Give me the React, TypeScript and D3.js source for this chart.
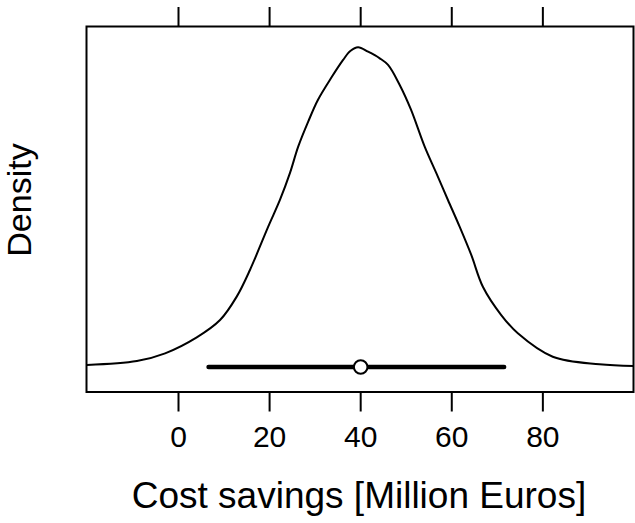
import React from "react";
import * as d3 from "d3";

// Density curve (x in Million Euros, y in density units)
const densityX = [-20.1, -9.14, -2.94, 4.01, 9.12, 12.78, 15.69, 19.70, 22.27, 24.46, 26.28, 28.5, 30.6, 33.5, 36.14, 37.72, 39.43, 41.62, 44.19, 46.01, 48.57, 51.0, 54.05, 56.61, 59.16, 61.72, 64.28, 66.83, 70.86, 74.50, 82.17, 92.41, 99.9];
const densityY = [0.00100, 0.00129, 0.00186, 0.00304, 0.00432, 0.00605, 0.00802, 0.01122, 0.01319, 0.01517, 0.01713, 0.01900, 0.02058, 0.02220, 0.02354, 0.02420, 0.02448, 0.02415, 0.02366, 0.02317, 0.02169, 0.01990, 0.01713, 0.01517, 0.01319, 0.01122, 0.00913, 0.00678, 0.00469, 0.00334, 0.00161, 0.00105, 0.00092];

// Interval summary (thick bar with a circle at the centre)
const intervalLow = [6.6];
const intervalHigh = [71.5];
const intervalMid = [40];
const intervalLevel = [0.00085];

const xTicks = [0, 20, 40, 60, 80];
const xLabel = "Cost savings [Million Euros]";
const yLabel = "Density";

const W = 635;
const H = 523;
const panel = { left: 86.5, right: 633.5, top: 26.5, bottom: 392 };

export default function App() {
  const x = d3.scaleLinear().domain([-20.2, 99.9]).range([panel.left, panel.right]);
  const y = d3.scaleLinear().domain([-0.000998, 0.02601]).range([panel.bottom, panel.top]);
  const pts: [number, number][] = densityX.map((v, i) => [v, densityY[i]]);
  const line = d3
    .line<[number, number]>()
    .x((d) => x(d[0]))
    .y((d) => y(d[1]))
    .curve(d3.curveCatmullRom.alpha(0.5));
  const font = "'Liberation Sans', Arial, Helvetica, sans-serif";
  return (
    <svg
      width={W}
      height={H}
      viewBox={`0 0 ${W} ${H}`}
      style={{ position: "absolute", left: 0, top: 0, background: "#fff" }}
    >
      <rect x={0} y={0} width={W} height={H} fill="#fff" />
      <defs>
        <clipPath id="pclip">
          <rect x={panel.left} y={panel.top} width={panel.right - panel.left} height={panel.bottom - panel.top} />
        </clipPath>
      </defs>
      <g clipPath="url(#pclip)">
        <path d={line(pts) || ""} fill="none" stroke="#000" strokeWidth={2} />
      </g>
      {intervalLow.map((lo, i) => (
        <g key={i}>
          <line
            x1={x(lo)}
            x2={x(intervalHigh[i])}
            y1={y(intervalLevel[i])}
            y2={y(intervalLevel[i])}
            stroke="#000"
            strokeWidth={4.5}
            strokeLinecap="round"
          />
          <circle cx={x(intervalMid[i])} cy={y(intervalLevel[i])} r={6.8} fill="#fff" stroke="#000" strokeWidth={2} />
        </g>
      ))}
      <rect
        x={panel.left}
        y={panel.top}
        width={panel.right - panel.left}
        height={panel.bottom - panel.top}
        fill="none"
        stroke="#000"
        strokeWidth={2}
      />
      {xTicks.map((t) => (
        <g key={t}>
          <line x1={x(t)} x2={x(t)} y1={panel.top} y2={panel.top - 19.5} stroke="#000" strokeWidth={2} />
          <line x1={x(t)} x2={x(t)} y1={panel.bottom} y2={panel.bottom + 19.5} stroke="#000" strokeWidth={2} />
          <text x={x(t)} y={447} textAnchor="middle" fontFamily={font} fontSize={30} fill="#000">
            {t}
          </text>
        </g>
      ))}
      <text
        x={(panel.left + panel.right) / 2 - 1}
        y={507.5}
        textAnchor="middle"
        fontFamily={font}
        fontSize={37}
        fill="#000"
      >
        {xLabel}
      </text>
      <text
        transform={`translate(30.5, 200) rotate(-90)`}
        textAnchor="middle"
        fontFamily={font}
        fontSize={34}
        fill="#000"
      >
        {yLabel}
      </text>
    </svg>
  );
}
